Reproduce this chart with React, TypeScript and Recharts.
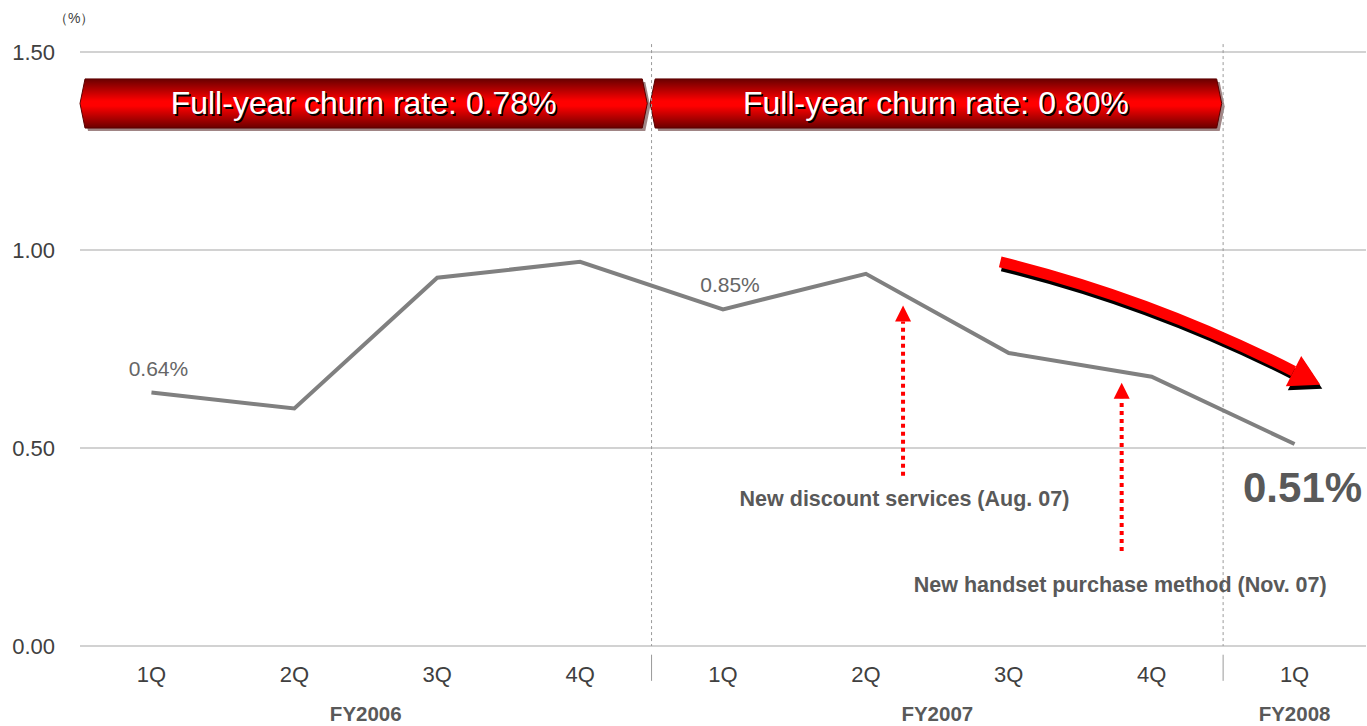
import React from 'react';
import {
  LineChart,
  Line,
  XAxis,
  YAxis,
  CartesianGrid,
  ReferenceLine,
  ReferenceArea,
  ReferenceDot,
  LabelList,
} from 'recharts';

const quarters = ['1Q', '2Q', '3Q', '4Q', '1Q', '2Q', '3Q', '4Q', '1Q'];
const churnRate = [0.64, 0.6, 0.93, 0.97, 0.85, 0.94, 0.74, 0.68, 0.51];
const pointLabels = ['0.64%', '', '', '', '0.85%', '', '', '', '0.51%'];
const yTicks = [0, 0.5, 1, 1.5];

const fiscalYears = ['FY2006', 'FY2007', 'FY2008'];
const fiscalYearCenters = [1.5, 5.5, 8];
const fiscalYearBreaks = [3.5, 7.5];

const bannerTexts = ['Full-year churn rate: 0.78%', 'Full-year churn rate: 0.80%'];
const bannerFrom = [-0.5, 3.49];
const bannerTo = [3.47, 7.49];
const bannerLow = 1.308;
const bannerHigh = 1.432;

const measureTexts = ['New discount services (Aug. 07)', 'New handset purchase method (Nov. 07)'];
const measureX = [5.26, 6.79];
const measureFrom = [0.43, 0.24];
const measureTo = [0.86, 0.665];
const measureTextX = [5.27, 6.78];
const measureTextY = [0.37, 0.155];

const trendStart = { x: 5.94, y: 0.97 };
const trendEnd = { x: 8.18, y: 0.66 };

const data = quarters.map((q, i) => ({ idx: i, quarter: q, rate: churnRate[i], label: pointLabels[i] }));

const FONT = "'Liberation Sans', Arial, sans-serif";

const makeBanner = (text: string, id: string) => (props: any) => {
  const { x, y, width: w, height: h } = props;
  const p = 5;
  const pts = (dx: number, dy: number) =>
    [
      [x + p, y],
      [x + w - p, y],
      [x + w, y + h / 2],
      [x + w - p, y + h],
      [x + p, y + h],
      [x, y + h / 2],
    ]
      .map(([a, b]) => `${a + dx},${b + dy}`)
      .join(' ');
  return (
    <g>
      <defs>
        <linearGradient id={id} x1="0" y1="0" x2="0" y2="1">
          <stop offset="0" stopColor="#6a0000" />
          <stop offset="0.45" stopColor="#ff0000" />
          <stop offset="0.55" stopColor="#ff0000" />
          <stop offset="1" stopColor="#6a0000" />
        </linearGradient>
      </defs>
      <polygon points={pts(3, 3)} fill="#a08585" />
      <polygon points={pts(0, 0)} fill={`url(#${id})`} stroke="#5a0000" strokeWidth={1} />
      <text x={x + w / 2 + 1.5} y={y + h / 2 + 1.5} textAnchor="middle" dominantBaseline="central"
        fontSize={32} fontFamily={FONT} fill="#000">{text}</text>
      <text x={x + w / 2} y={y + h / 2} textAnchor="middle" dominantBaseline="central"
        fontSize={32} fontFamily={FONT} fill="#fff">{text}</text>
    </g>
  );
};

const TrendArrow = (props: any) => {
  const { x1, y1, x2, y2 } = props;
  const cx = x1 + 0.47 * (x2 - x1);
  const cy = y1 + 0.3 * (y2 - y1);
  const tx = x2 - cx;
  const ty = y2 - cy;
  const len = Math.hypot(tx, ty);
  const ux = tx / len;
  const uy = ty / len;
  const L = 30;
  const W = 17;
  const bx = x2 - ux * L;
  const by = y2 - uy * L;
  const shape = (dx: number, dy: number, color: string) => (
    <g>
      <path d={`M${x1 + dx},${y1 + dy} Q${cx + dx},${cy + dy} ${bx + dx},${by + dy}`}
        stroke={color} strokeWidth={11} fill="none" />
      <polygon
        points={`${x2 + dx},${y2 + dy} ${bx - uy * W + dx},${by + ux * W + dy} ${bx + uy * W + dx},${by - ux * W + dy}`}
        fill={color} />
    </g>
  );
  return (
    <g>
      {shape(2, 4, '#000')}
      {shape(0, 0, '#ff0000')}
    </g>
  );
};

const DottedArrow = (props: any) => {
  const { x1, y1, x2, y2 } = props;
  const H = 16;
  const W = 8;
  return (
    <g>
      <line x1={x1} y1={y1} x2={x2} y2={y2 + H} stroke="#ff0000" strokeWidth={4} strokeDasharray="4 4" />
      <polygon points={`${x2},${y2} ${x2 - W},${y2 + H} ${x2 + W},${y2 + H}`} fill="#ff0000" />
    </g>
  );
};

const PointLabel = (props: any) => {
  const { x, y, value, index } = props;
  if (!value) return null;
  if (index === churnRate.length - 1) {
    return (
      <text x={x + 8} y={y + 58} textAnchor="middle" fontSize={42} fontWeight="bold"
        fontFamily={FONT} fill="#595959">{value}</text>
    );
  }
  return (
    <text x={x + 7} y={y - 17} textAnchor="middle" fontSize={21} fontFamily={FONT} fill="#666">{value}</text>
  );
};

const FyLabel = (props: any) => {
  const { viewBox, value } = props;
  return (
    <text x={viewBox.x} y={viewBox.y} textAnchor="middle" dominantBaseline="central" fontSize={20.5}
      fontWeight="bold" fontFamily={FONT} fill="#595959">{value}</text>
  );
};

const MeasureLabel = (props: any) => {
  const { viewBox, value } = props;
  return (
    <text x={viewBox.x} y={viewBox.y} textAnchor="middle" dominantBaseline="central" fontSize={21.5}
      fontWeight="bold" fontFamily={FONT} fill="#595959">{value}</text>
  );
};

export default function App() {
  return (
    <div style={{ position: 'absolute', left: 0, top: 0, width: 1367, height: 726, background: '#fff' }}>
      <div style={{ position: 'absolute', left: 54, top: 10, fontSize: 14, fontFamily: FONT, color: '#404040' }}>
        （%）
      </div>
      <LineChart width={1367} height={726} data={data} margin={{ top: 52, right: 1, bottom: 0, left: 0 }}>
        <CartesianGrid vertical={false} stroke="#a6a6a6" strokeWidth={1.2} />
        <XAxis
          dataKey="idx"
          type="number"
          domain={[-0.5, 8.5]}
          ticks={data.map((d) => d.idx)}
          tickFormatter={(v: number) => quarters[v]}
          axisLine={false}
          tickLine={false}
          tickSize={0}
          tickMargin={20}
          height={80}
          tick={{ fontSize: 22, fontFamily: FONT, fill: '#404040' }}
        />
        <YAxis
          domain={[0, 1.5]}
          ticks={yTicks}
          tickFormatter={(v: number) => v.toFixed(2)}
          axisLine={false}
          tickLine={false}
          tickSize={0}
          tickMargin={25}
          width={80}
          tick={{ fontSize: 22, fontFamily: FONT, fill: '#404040' }}
        />
        {fiscalYearBreaks.map((b) => (
          <ReferenceLine key={`up${b}`} segment={[{ x: b, y: 1.52 }, { x: b, y: 0 }]} ifOverflow="visible"
            stroke="#9a9a9a" strokeDasharray="3 3" strokeWidth={1} />
        ))}
        {fiscalYearBreaks.map((b) => (
          <ReferenceLine key={`dn${b}`} segment={[{ x: b, y: -0.022 }, { x: b, y: -0.088 }]} ifOverflow="visible"
            stroke="#9a9a9a" strokeWidth={1} />
        ))}
        {bannerTexts.map((t, i) => (
          <ReferenceArea key={t} x1={bannerFrom[i]} x2={bannerTo[i]} y1={bannerLow} y2={bannerHigh}
            ifOverflow="visible" shape={makeBanner(t, `bannerGrad${i}`)} />
        ))}
        {fiscalYears.map((fy, i) => (
          <ReferenceDot key={fy} x={fiscalYearCenters[i]} y={-0.17} r={0} ifOverflow="visible"
            fill="none" stroke="none" label={<FyLabel value={fy} />} />
        ))}
        <Line
          type="linear"
          dataKey="rate"
          stroke="#808080"
          strokeWidth={4}
          dot={false}
          activeDot={false}
          isAnimationActive={false}
        >
          <LabelList dataKey="label" content={PointLabel} />
        </Line>
        {measureTexts.map((t, i) => (
          <ReferenceLine key={`arrow${i}`} segment={[{ x: measureX[i], y: measureFrom[i] }, { x: measureX[i], y: measureTo[i] }]}
            ifOverflow="visible" shape={DottedArrow} />
        ))}
        {measureTexts.map((t, i) => (
          <ReferenceDot key={t} x={measureTextX[i]} y={measureTextY[i]} r={0} ifOverflow="visible"
            fill="none" stroke="none" label={<MeasureLabel value={t} />} />
        ))}
        <ReferenceLine segment={[trendStart, trendEnd]} ifOverflow="visible" shape={TrendArrow} />
      </LineChart>
    </div>
  );
}
